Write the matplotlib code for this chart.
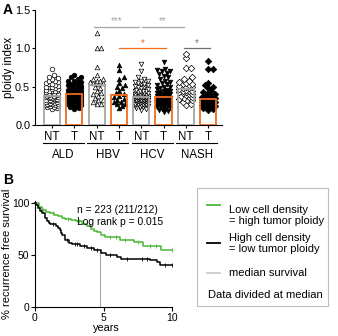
import numpy as np
import matplotlib.pyplot as plt
from matplotlib.patches import Rectangle

# Panel A data: ploidy index per patient
groups = ['ALD', 'HBV', 'HCV', 'NASH']
sub_labels = ['NT', 'T', 'NT', 'T', 'NT', 'T', 'NT', 'T']
bar_means = [0.38, 0.40, 0.52, 0.39, 0.36, 0.36, 0.47, 0.34]

ald_nt = [0.73, 0.65, 0.63, 0.61, 0.60, 0.58, 0.57, 0.56, 0.55, 0.54, 0.53, 0.52, 0.51, 0.50, 0.50,
          0.49, 0.48, 0.47, 0.47, 0.46, 0.45, 0.45, 0.44, 0.44, 0.43, 0.42, 0.42, 0.41, 0.41, 0.40,
          0.40, 0.39, 0.39, 0.38, 0.38, 0.37, 0.37, 0.36, 0.36, 0.35, 0.35, 0.34, 0.34, 0.33, 0.33,
          0.32, 0.32, 0.31, 0.31, 0.30, 0.30, 0.29, 0.29, 0.28, 0.28, 0.27, 0.27, 0.26, 0.26, 0.25,
          0.25, 0.24, 0.23, 0.22, 0.21]
ald_t = [0.65, 0.63, 0.62, 0.60, 0.58, 0.57, 0.56, 0.55, 0.54, 0.53, 0.52, 0.51, 0.50, 0.50, 0.49,
         0.48, 0.48, 0.47, 0.46, 0.46, 0.45, 0.45, 0.44, 0.44, 0.43, 0.43, 0.42, 0.42, 0.41, 0.41,
         0.40, 0.40, 0.39, 0.39, 0.38, 0.38, 0.37, 0.37, 0.36, 0.36, 0.35, 0.35, 0.34, 0.34, 0.33,
         0.33, 0.32, 0.32, 0.31, 0.30, 0.30, 0.29, 0.28, 0.27, 0.26, 0.25, 0.24, 0.23, 0.22, 0.21]
hbv_nt = [1.20, 1.00, 1.00, 0.76, 0.65, 0.60, 0.60, 0.58, 0.57, 0.56, 0.55, 0.55, 0.54, 0.50, 0.48,
          0.45, 0.42, 0.40, 0.38, 0.35, 0.33, 0.32, 0.30, 0.28, 0.27]
hbv_t = [0.78, 0.72, 0.62, 0.60, 0.55, 0.52, 0.50, 0.48, 0.45, 0.42, 0.40, 0.38, 0.36, 0.34, 0.33,
         0.30, 0.30, 0.28, 0.27, 0.25, 0.22]
hcv_nt = [0.80, 0.70, 0.62, 0.60, 0.58, 0.57, 0.56, 0.55, 0.54, 0.53, 0.52, 0.51, 0.50, 0.49, 0.48,
          0.47, 0.46, 0.45, 0.45, 0.44, 0.44, 0.43, 0.43, 0.42, 0.42, 0.41, 0.41, 0.40, 0.40, 0.40,
          0.39, 0.39, 0.38, 0.38, 0.38, 0.37, 0.37, 0.37, 0.36, 0.36, 0.36, 0.35, 0.35, 0.35, 0.34,
          0.34, 0.34, 0.33, 0.33, 0.33, 0.32, 0.32, 0.32, 0.31, 0.31, 0.31, 0.30, 0.30, 0.30, 0.29,
          0.29, 0.28, 0.28, 0.27, 0.27, 0.26, 0.26, 0.25, 0.25, 0.24, 0.23, 0.22, 0.21, 0.20]
hcv_t = [0.82, 0.73, 0.72, 0.71, 0.70, 0.68, 0.66, 0.64, 0.62, 0.60, 0.58, 0.56, 0.55, 0.53, 0.52,
         0.50, 0.49, 0.48, 0.47, 0.46, 0.45, 0.44, 0.43, 0.42, 0.42, 0.41, 0.40, 0.40, 0.39, 0.38,
         0.38, 0.37, 0.37, 0.36, 0.36, 0.35, 0.35, 0.34, 0.34, 0.33, 0.33, 0.32, 0.32, 0.31, 0.31,
         0.30, 0.30, 0.29, 0.29, 0.28, 0.28, 0.27, 0.27, 0.26, 0.26, 0.25, 0.25, 0.24, 0.24, 0.23,
         0.22, 0.21, 0.20, 0.19, 0.18, 0.17]
nash_nt = [0.93, 0.87, 0.74, 0.74, 0.62, 0.60, 0.58, 0.56, 0.55, 0.54, 0.53, 0.52, 0.51, 0.50, 0.49,
           0.48, 0.48, 0.47, 0.46, 0.45, 0.45, 0.44, 0.43, 0.43, 0.42, 0.41, 0.40, 0.39, 0.38, 0.37,
           0.36, 0.35, 0.34, 0.33, 0.32, 0.30, 0.28, 0.26]
nash_t = [0.83, 0.73, 0.73, 0.55, 0.52, 0.50, 0.48, 0.45, 0.43, 0.42, 0.40, 0.38, 0.37, 0.36, 0.35,
          0.34, 0.33, 0.32, 0.31, 0.30, 0.29, 0.28, 0.27, 0.26, 0.25, 0.24, 0.23, 0.22, 0.21, 0.20]
series = [ald_nt, ald_t, hbv_nt, hbv_t, hcv_nt, hcv_t, nash_nt, nash_t]
markers = ['o', 'o', '^', '^', 'v', 'v', 'D', 'D']

# Panel B data: Kaplan-Meier curves (years, % recurrence free)
green_t = [0, 0.3, 0.5, 0.8, 1.1, 1.4, 1.7, 2.0, 2.2, 2.6, 3.0, 3.4, 3.8, 4.1, 4.3, 4.5, 4.8, 5.1,
           6.2, 7.2, 7.9, 9.2, 10]
green_s = [100, 96, 93, 91, 90, 89, 88, 86, 85, 84, 83, 80, 78, 75, 73, 72, 69, 67, 64, 63, 59, 55, 55]
green_cens = [0.6, 1.3, 2.4, 3.2, 4.0, 5.5, 5.9, 6.6, 7.5, 8.4, 8.8, 10.0]
black_t = [0, 0.1, 0.25, 0.4, 0.5, 0.7, 0.85, 1.0, 1.1, 1.5, 1.7, 1.8, 1.9, 2.0, 2.2, 2.5, 2.7,
           3.3, 3.8, 4.3, 4.8, 5.2, 6.0, 6.3, 8.4, 8.9, 9.1, 10]
black_s = [100, 98, 95, 92, 90, 86, 83, 81, 80, 78, 76, 74, 71, 69, 64, 62, 61, 59, 57, 55, 52, 50,
           48, 46, 45, 43, 40, 40]
black_cens = [1.3, 2.3, 2.9, 3.1, 3.6, 4.1, 4.5, 5.5, 6.7, 7.8, 8.2, 9.5, 10.0]
median_t = 4.75

W, H = 338, 336
GRAY = '#a6a6a6'
ORANGE = '#f26a1b'
GREEN = '#4cb637'

plt.rcParams['font.family'] = 'Liberation Sans'
fig = plt.figure(figsize=(W / 100, H / 100), dpi=100)


def swarm(vals, ppx, ppy, step=1.6, maxoff=6.5, diam=3.8):
    placed = []
    offs = []
    cand = [0.0]
    k = 1
    while k * step <= maxoff:
        cand += [k * step, -k * step]
        k += 1
    for v in sorted(vals):
        y = v * ppy
        best, bestd = 0.0, -1
        for c in cand:
            d = min([np.hypot(c - px, y - py) for px, py in placed] + [99])
            if d >= diam:
                best = c
                break
            if d > bestd:
                best, bestd = c, d
        placed.append((best, y))
        offs.append(best / ppx)
    return sorted(vals), offs


# ---------- Panel A ----------
axA = fig.add_axes([35 / W, 1 - 125 / H, 187 / W, 115 / H])
spacing = 22.3
axA.set_xlim(-17 / spacing, 170 / spacing)
axA.set_ylim(0, 1.5)
ppy = 115 / 1.5
x = np.arange(len(series))
for i, vals in enumerate(series):
    ys, offs = swarm(vals, spacing, ppy)
    filled = (i % 2 == 1)
    axA.scatter(x[i] + np.array(offs), ys, s=11, marker=markers[i],
                facecolor='black' if filled else 'white', edgecolor='black',
                linewidth=0.5, zorder=3)
    axA.bar(x[i], bar_means[i], width=0.72, fill=False,
            edgecolor=ORANGE if filled else GRAY, linewidth=1.3, zorder=4)

axA.set_yticks([0, 0.5, 1.0, 1.5])
axA.set_yticklabels(['0.0', '0.5', '1.0', '1.5'], fontsize=7.8)
axA.set_xticks(x)
axA.set_xticklabels(sub_labels, fontsize=8.3)
axA.tick_params(axis='x', length=2.5, pad=2)
axA.tick_params(axis='y', length=2.5, pad=1)
axA.spines[['top', 'right']].set_visible(False)
axA.set_ylabel('ploidy index', fontsize=8.3)
axA.yaxis.set_label_coords(-0.108, 0.5)

tr = axA.get_xaxis_transform()
for g, name in enumerate(groups):
    x0, x1 = x[2 * g] - 0.42, x[2 * g + 1] + 0.42
    axA.plot([x0, x1], [-0.16, -0.16], color='black', lw=0.8, transform=tr, clip_on=False)
    axA.text((x[2 * g] + x[2 * g + 1]) / 2, -0.26, name, transform=tr, ha='center', va='center',
             fontsize=8.3)

# significance brackets
sig = [(2 - 0.1, 4 - 0.1, 1.28, GRAY, '***'),
       (4 + 0.05, 6 - 0.1, 1.28, GRAY, '**'),
       (3, 5 + 0.1, 1.0, ORANGE, '*'),
       (6 - 0.1, 7 + 0.1, 1.0, '#707070', '*')]
for a, b, yv, c, s in sig:
    axA.plot([a, b], [yv, yv], color=c, lw=0.9, clip_on=False)
    axA.text((a + b) / 2, yv + 0.005, s, color=c, ha='center', va='bottom', fontsize=7)

fig.text(3 / W, 1 - 10 / H, 'A', fontsize=10, fontweight='bold', va='center', ha='left')

# ---------- Panel B ----------
axB = fig.add_axes([35 / W, 1 - 307 / H, 137 / W, 106 / H])
axB.set_xlim(0, 10)
axB.set_ylim(0, 102)


def surv_at(times, surv, tc):
    idx = np.searchsorted(times, tc, side='right') - 1
    return np.array(surv)[idx]


axB.plot([median_t, median_t], [0, surv_at(black_t, black_s, median_t) - 1], color=GRAY, lw=0.8)
axB.step(green_t, green_s, where='post', color=GREEN, lw=1.1, clip_on=False)
axB.step(black_t, black_s, where='post', color='black', lw=1.1, clip_on=False)
axB.scatter(green_cens, surv_at(green_t, green_s, green_cens), marker='|', s=6, color=GREEN,
            lw=0.6, clip_on=False)
axB.scatter(black_cens, surv_at(black_t, black_s, black_cens), marker='|', s=6, color='black',
            lw=0.6, clip_on=False)

axB.set_xticks([0, 5, 10])
axB.set_yticks([0, 50, 100])
axB.tick_params(labelsize=7.5, length=3, pad=1)
axB.spines[['top', 'right']].set_visible(False)
axB.set_xlabel('years', fontsize=7.8)
axB.xaxis.set_label_coords(0.52, -0.155)
axB.set_ylabel('% recurrence free survival', fontsize=8)
axB.yaxis.set_label_coords(-0.165, 0.5)
axB.text(3.1, 98, 'n = 223 (211/212)\nLog rank p = 0.015', fontsize=7.4, va='top', ha='left',
         linespacing=1.2)

fig.text(3 / W, 1 - 180 / H, 'B', fontsize=10, fontweight='bold', va='center', ha='left')

# legend box
axL = fig.add_axes([197 / W, 1 - 306 / H, 131 / W, 118 / H])
axL.set_xlim(0, 131)
axL.set_ylim(118, 0)
axL.axis('off')
axL.add_patch(Rectangle((0, 0), 131, 118, fill=False, edgecolor='#bdbdbd', lw=0.8,
                        clip_on=False))
axL.plot([10, 23], [17, 17], color=GREEN, lw=1.3)
axL.text(32, 17, 'Low cell density\n= high tumor ploidy', fontsize=8, va='top', ha='left',
         linespacing=1.1)
axL.plot([10, 23], [55, 55], color='black', lw=1.3)
axL.text(32, 45, 'High cell density\n= low tumor ploidy', fontsize=8, va='top', ha='left',
         linespacing=1.1)
axL.plot([10, 23], [85, 85], color='#cccccc', lw=1.3)
axL.text(32, 85, 'median survival', fontsize=8, va='center', ha='left')
axL.text(11, 107, 'Data divided at median', fontsize=8, va='center', ha='left')

fig.savefig('out.png', dpi=100)
